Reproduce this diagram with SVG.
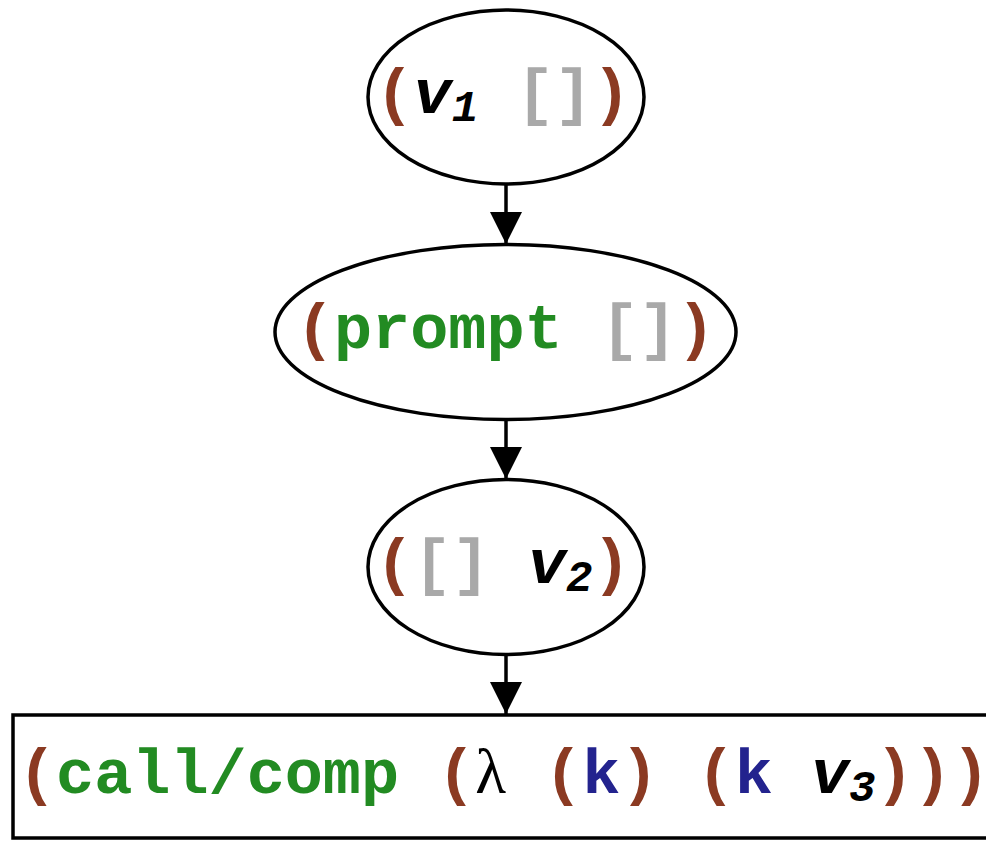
<svg xmlns="http://www.w3.org/2000/svg" width="986" height="841" viewBox="0 0 986 841">
<style>
.shape{fill:#fff;stroke:#000;stroke-width:3.5}
.t{font-family:"Liberation Mono","Courier New",monospace;font-weight:bold;font-size:63.5px}
.p{fill:#8b3a22}
.g{fill:#228b22}
.gr{fill:#a9a9a9}
.b{fill:#23238e}
.v{font-style:italic;fill:#000}
.sub{font-size:44px}
.serif{font-family:"Liberation Serif","Times New Roman",serif;font-weight:normal;fill:#000}
.edge{stroke:#000;stroke-width:3.5;fill:none}
</style>
<defs>
<marker id="arr" markerUnits="userSpaceOnUse" markerWidth="34" markerHeight="34" refX="32" refY="16" orient="auto">
<polygon points="0,0 32,16 0,32" fill="#000"/>
</marker>
</defs>
<g id="connectors">
<line class="edge" x1="506" y1="184" x2="506" y2="244" marker-end="url(#arr)"/>
<line class="edge" x1="506" y1="420" x2="506" y2="479" marker-end="url(#arr)"/>
<line class="edge" x1="506" y1="655" x2="506" y2="714" marker-end="url(#arr)"/>
</g>
<g id="node1">
<ellipse class="shape" cx="506" cy="97" rx="138" ry="87"/>
<text class="t" x="503" y="113" text-anchor="middle"><tspan class="p">(</tspan><tspan class="v">v</tspan><tspan class="v sub" dy="8">1</tspan><tspan dy="-8"> </tspan><tspan class="gr">[]</tspan><tspan class="p">)</tspan></text>
</g>
<g id="node2">
<ellipse class="shape" cx="505.5" cy="332" rx="230.5" ry="87.5"/>
<text class="t" x="505.5" y="348" text-anchor="middle"><tspan class="p">(</tspan><tspan class="g">prompt</tspan><tspan> </tspan><tspan class="gr">[]</tspan><tspan class="p">)</tspan></text>
</g>
<g id="node3">
<ellipse class="shape" cx="506" cy="567" rx="138" ry="87.5"/>
<text class="t" x="503" y="583" text-anchor="middle"><tspan class="p">(</tspan><tspan class="gr">[]</tspan><tspan> </tspan><tspan class="v">v</tspan><tspan class="v sub" dy="8">2</tspan><tspan class="p" dy="-8">)</tspan></text>
</g>
<g id="node4">
<rect class="shape" x="13" y="715" width="1000" height="123"/>
<text class="t" x="18" y="793"><tspan class="p">(</tspan><tspan class="g">call/comp</tspan><tspan> </tspan><tspan class="p">(</tspan><tspan class="serif">λ</tspan><tspan> </tspan><tspan class="p">(</tspan><tspan class="b">k</tspan><tspan class="p">)</tspan><tspan> </tspan><tspan class="p">(</tspan><tspan class="b">k</tspan><tspan> </tspan><tspan class="v">v</tspan><tspan class="v sub" dy="8">3</tspan><tspan class="p" dy="-8">)))</tspan></text>
</g>
</svg>
